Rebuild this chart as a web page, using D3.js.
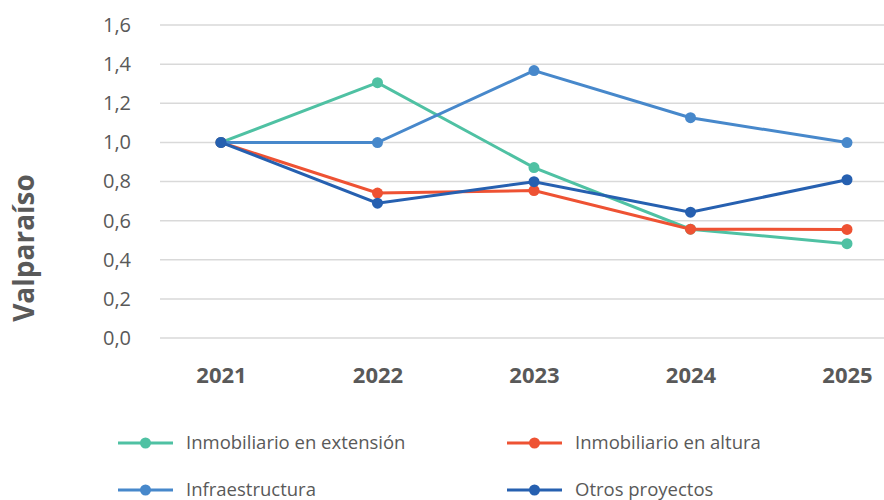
<!DOCTYPE html>
<html><head><meta charset="utf-8">
<script src="https://cdn.jsdelivr.net/npm/d3@7"></script>
<style>body{margin:0;background:#fff;}svg{display:block;font-family:"Open Sans",sans-serif;}</style>
</head><body><svg id="c" width="884" height="500"></svg>
<script>
const years = ["2021","2022","2023","2024","2025"];
const yTicks = [0,0.2,0.4,0.6,0.8,1.0,1.2,1.4,1.6];
const seriesNames = ["Inmobiliario en extensión","Inmobiliario en altura","Infraestructura","Otros proyectos"];
const extension = [1.0,1.305,0.871,0.556,0.482];
const altura = [1.0,0.741,0.754,0.556,0.555];
const infraestructura = [1.0,0.999,1.367,1.126,0.999];
const otros = [1.0,0.689,0.799,0.643,0.809];
const colors = ["#4fc1a3","#ee5233","#4788cb","#2660b0"];

const series = [extension, altura, infraestructura, otros];
const svg = d3.select("#c");
const x = d3.scalePoint().domain(years).range([221,847]);
const y = d3.scaleLinear().domain([0,1.6]).range([338,25]);

// gridlines
svg.append("g").selectAll("line").data(yTicks).join("line")
  .attr("x1",160).attr("x2",884)
  .attr("y1",d=>y(d)).attr("y2",d=>y(d))
  .attr("stroke","#d9d9d9").attr("stroke-width",1.5);

// y axis labels
const yAxis = d3.axisLeft(y).tickValues(yTicks).tickSize(0).tickPadding(0)
  .tickFormat(d=>d3.format(".1f")(d).replace(".",","));
const gy = svg.append("g").attr("transform","translate(131,0)").call(yAxis);
gy.select(".domain").remove();
gy.selectAll("text").attr("fill","#595959").style("font-size","20px").style("font-family","'Open Sans',sans-serif");

// x axis labels
const xAxis = d3.axisBottom(x).tickSize(0).tickPadding(0);
const gx = svg.append("g").attr("transform","translate(0,367)").call(xAxis);
gx.select(".domain").remove();
gx.selectAll("text").attr("fill","#595959").style("font-size","22px").style("font-weight","bold").style("font-family","'Open Sans',sans-serif");

// y title
svg.append("text").attr("transform","translate(34,248) rotate(-90)")
  .attr("text-anchor","middle").attr("fill","#595959")
  .style("font-size","28px").style("font-weight","bold").text("Valparaíso");

const line = d3.line().x((d,i)=>x(years[i])).y(d=>y(d));
series.forEach((s,k)=>{
  const g = svg.append("g");
  g.append("path").datum(s).attr("d",line).attr("fill","none")
    .attr("stroke",colors[k]).attr("stroke-width",3);
  g.selectAll("circle").data(s).join("circle")
    .attr("cx",(d,i)=>x(years[i])).attr("cy",d=>y(d)).attr("r",5.5).attr("fill",colors[k]);
});

// legend
const legPos = [[118,443],[507,443],[118,490],[507,490]];
seriesNames.forEach((n,k)=>{
  const [lx,ly] = legPos[k];
  const g = svg.append("g").attr("transform",`translate(${lx},${ly})`);
  g.append("line").attr("x1",0).attr("x2",55).attr("stroke",colors[k]).attr("stroke-width",3);
  g.append("circle").attr("cx",27.5).attr("r",5.5).attr("fill",colors[k]);
  g.append("text").attr("x",68).attr("dy","0.35em").attr("fill","#595959")
    .style("font-size","18.5px").text(n);
});
</script></body></html>
